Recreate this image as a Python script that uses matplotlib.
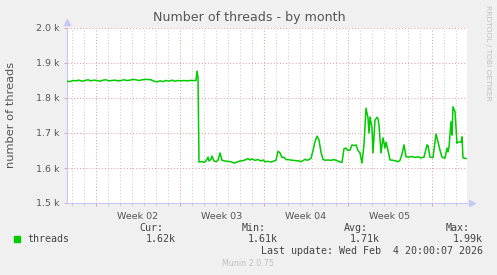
import matplotlib
matplotlib.use("Agg")
import matplotlib.pyplot as plt
import numpy as np
from matplotlib.ticker import FixedLocator, FuncFormatter

# time axis: hours since the left edge of the month window (800 h shown)
WINDOW_H = 800
WEEK0_H = 58          # Monday 00:00 of Week 02
week_labels = ["Week 02", "Week 03", "Week 04", "Week 05"]

hours = [0, 6, 12, 18, 24, 30, 36, 42, 48, 54, 60, 66, 72, 78, 84, 90, 96, 102,
         108, 114, 120, 126, 132, 138, 144, 150, 156, 162, 168, 174, 180, 186,
         192, 198, 204, 210, 216, 222, 228, 234, 240, 246, 252, 258, 260, 262,
         264, 270, 274, 278, 282, 284, 288, 290, 294, 298, 302, 306, 310, 316,
         322, 328, 334, 340, 346, 352, 358, 362, 366, 370, 376, 382, 388, 392,
         396, 402, 408, 414, 418, 422, 426, 430, 434, 438, 442, 446, 452, 458,
         464, 468, 472, 476, 480, 484, 488, 492, 496, 500, 504, 508, 512, 516,
         522, 528, 534, 540, 546, 550, 554, 558, 562, 566, 570, 574, 578, 582,
         586, 590, 594, 598, 602, 604, 606, 610, 612, 616, 620, 622, 624, 628,
         632, 636, 638, 642, 646, 652, 658, 662, 666, 670, 674, 678, 684, 690,
         696, 702, 708, 714, 720, 722, 726, 732, 738, 742, 746, 750, 756, 760,
         762, 764, 768, 770, 772, 776, 780, 782, 788, 790, 792, 798]
threads = [1848, 1847, 1850, 1849, 1851, 1848, 1850, 1852, 1849, 1851, 1850,
           1848, 1851, 1852, 1849, 1850, 1851, 1849, 1850, 1852, 1850, 1851,
           1853, 1852, 1850, 1852, 1853, 1853, 1852, 1848, 1846, 1849, 1847,
           1850, 1848, 1851, 1848, 1850, 1849, 1850, 1849, 1850, 1850, 1850,
           1877, 1860,
           1617, 1618, 1616, 1620, 1631, 1620, 1625, 1634, 1620, 1618, 1622,
           1643, 1622, 1620, 1619, 1618, 1614, 1617, 1620, 1621, 1624, 1627,
           1623, 1626, 1622, 1624, 1620, 1623, 1618, 1619, 1617, 1620, 1622,
           1648, 1643, 1630, 1631, 1624, 1624, 1623, 1622, 1621, 1620, 1618,
           1621, 1625, 1622, 1624, 1628, 1650, 1675, 1691, 1680, 1645, 1625,
           1622, 1623, 1622, 1624, 1621, 1617, 1616, 1655, 1657, 1650, 1651,
           1666, 1664, 1666, 1650, 1643, 1614, 1666, 1771, 1743, 1700, 1746,
           1714, 1643, 1737, 1745, 1741, 1723, 1643, 1686, 1657, 1674, 1650,
           1623, 1622, 1620, 1618, 1622, 1640, 1666, 1632, 1631, 1633, 1630,
           1632, 1629, 1631, 1666, 1664, 1631, 1630, 1697, 1675, 1651, 1631,
           1628, 1657, 1646, 1660, 1732, 1694, 1775, 1761, 1671, 1674, 1674,
           1689, 1629, 1627]

stat_names = ["Cur:", "Min:", "Avg:", "Max:"]
stat_values = ["1.62k", "1.61k", "1.71k", "1.99k"]

W, H = 497, 275
fig = plt.figure(figsize=(W / 100, H / 100), dpi=100, facecolor="#f0f0f0")
ax = fig.add_axes([67 / W, 1 - 203 / H, 400 / W, 175 / H], facecolor="white")

ax.plot(hours, threads, color="#00cc00", lw=1.1, zorder=3)
ax.set_xlim(0, WINDOW_H)
ax.set_ylim(1500, 2000)

red = "#e4a0a0"
grey = "#cccccc"
axis_c = "#c8c8f8"
major_x = np.arange(WEEK0_H, WINDOW_H, 168)
minor_x = np.arange(WEEK0_H % 24, WINDOW_H, 24)
ax.xaxis.set_major_locator(FixedLocator(major_x))
ax.xaxis.set_minor_locator(FixedLocator([m for m in minor_x if m not in major_x]))
ax.set_xticklabels([])
ax.yaxis.set_major_locator(FixedLocator(np.arange(1500, 2001, 100)))
ax.yaxis.set_major_formatter(FuncFormatter(lambda v, p: f"{v / 1000:.1f} k"))
ax.grid(which="major", axis="both", color=red, ls=(0, (1, 2)), lw=0.75)
ax.grid(which="minor", axis="x", color=grey, ls=(0, (1, 2)), lw=0.75)
ax.tick_params(axis="x", which="major", length=2.5, color=red, width=0.7)
ax.tick_params(axis="x", which="minor", length=2.5, color=grey, width=0.7)
ax.tick_params(axis="y", length=2.5, color=red, width=0.7, labelsize=6.8,
               labelcolor="#555555", pad=3)
for s in ["top", "right"]:
    ax.spines[s].set_visible(False)
for s in ["left", "bottom"]:
    ax.spines[s].set_color(axis_c)
    ax.spines[s].set_linewidth(0.8)
ax.plot([0], [1.035], marker="^", ms=4, color=axis_c, transform=ax.transAxes, clip_on=False)
ax.plot([1.012], [0], marker=">", ms=4, color=axis_c, transform=ax.transAxes, clip_on=False)

for i, lab in enumerate(week_labels):
    ax.text(WEEK0_H + 168 * i + 84, -0.05, lab, transform=ax.get_xaxis_transform(),
            ha="center", va="top", fontsize=6.8, color="#555555")

fig.text(249 / W, 1 - 18 / H, "Number of threads - by month", ha="center", va="center",
         fontsize=9.1, color="#555555")
fig.text(11 / W, 1 - 115 / H, "number of threads", rotation=90, ha="center", va="center",
         fontsize=8.2, color="#555555")
fig.text(488 / W, 1 - 5 / H, "RRDTOOL / TOBI OETIKER", rotation=270, ha="center", va="top",
         fontsize=5.4, color="#c0c0c0")

mono = "DejaVu Sans Mono"
fig.patches.append(plt.Rectangle((14 / W, 1 - 242 / H), 6 / W, 6 / H, color="#00cc00",
                                 transform=fig.transFigure))
fig.text(27 / W, 1 - 239.5 / H, "threads", family=mono, fontsize=7.2, color="#444444",
         va="center")
head_x = [163, 266, 368, 470]
val_x = [176, 278, 380, 483]
for n, v, hx, vx in zip(stat_names, stat_values, head_x, val_x):
    fig.text(hx / W, 1 - 228 / H, n, family=mono, fontsize=7.2, color="#444444",
             ha="right", va="center")
    fig.text(vx / W, 1 - 239.5 / H, v, family=mono, fontsize=7.2, color="#444444",
             ha="right", va="center")
fig.text(483 / W, 1 - 251.5 / H, "Last update: Wed Feb  4 20:00:07 2026", family=mono,
         fontsize=7.2, color="#444444", ha="right", va="center")
fig.text(248 / W, 1 - 264 / H, "Munin 2.0.75", fontsize=5.8, color="#c0c0c0",
         ha="center", va="center")

fig.savefig("out.png", dpi=100, facecolor=fig.get_facecolor())
